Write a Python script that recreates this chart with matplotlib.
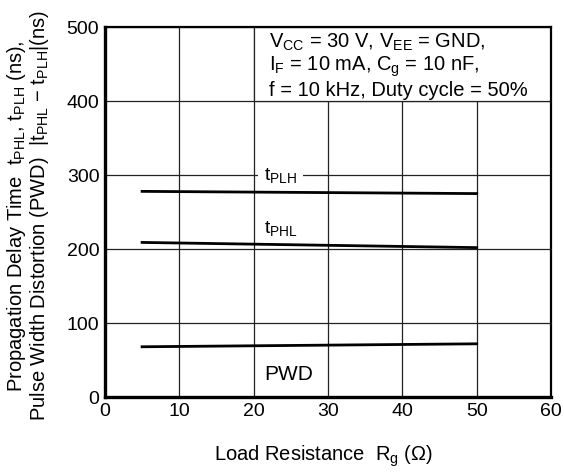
import matplotlib.pyplot as plt
from matplotlib.patches import Rectangle

plt.rcParams['font.family'] = ['Liberation Sans', 'DejaVu Sans']
plt.rcParams['mathtext.fontset'] = 'custom'
plt.rcParams['mathtext.rm'] = 'Liberation Sans'
plt.rcParams['mathtext.it'] = 'Liberation Sans:italic'
plt.rcParams['mathtext.default'] = 'regular'

# 数据
rg = [5, 50]
t_plh = [278, 275]
t_phl = [209, 202]
pwd = [68, 72]

x_ticks = [0, 10, 20, 30, 40, 50, 60]
y_ticks = [0, 100, 200, 300, 400, 500]

fig = plt.figure(figsize=(5.64, 4.75), dpi=100)
ax = fig.add_axes([0.186, 0.164, 0.791, 0.779])

ax.set_xlim(0, 60)
ax.set_ylim(0, 500)
ax.set_xticks(x_ticks)
ax.set_yticks(y_ticks)
ax.tick_params(length=0, labelsize=14, pad=4)
ax.grid(True, color='#222222', linewidth=0.9)
ax.set_axisbelow(True)

for side in ['left', 'bottom']:
    ax.spines[side].set_linewidth(2.4)
for side in ['top', 'right']:
    ax.spines[side].set_linewidth(1.6)

# 曲线
for y in [t_plh, t_phl, pwd]:
    ax.plot(rg, y, color='black', linewidth=2.0, zorder=3)

# 条件说明框（遮住网格）
ax.add_patch(Rectangle((20, 400), 40, 100, facecolor='white', edgecolor='#222222',
                       linewidth=0.9, zorder=2))
ax.text(22.1, 494, "$V_{CC}$ = 30 V, $V_{EE}$ = GND,\n$I_{F}$ = 10 mA, $C_{g}$ = 10 nF,\nf = 10 kHz, Duty cycle = 50%",
        fontsize=14.5, va='top', ha='left', linespacing=1.12, zorder=4)

# 曲线标签
ax.text(21.4, 300, "$t_{PLH}$", fontsize=14, va='center', ha='left', zorder=4,
        bbox=dict(facecolor='white', edgecolor='none', pad=4))
ax.text(21.4, 228, "$t_{PHL}$", fontsize=14, va='center', ha='left', zorder=4)
ax.text(21.4, 30, "PWD", fontsize=15, va='center', ha='left', zorder=4)

ax.set_xlabel("Load Resistance  $R_{g}$ (Ω)", fontsize=14.5)
ax.xaxis.set_label_coords(0.49, -0.125)
ax.set_ylabel("Propagation Delay Time  $t_{PHL}$, $t_{PLH}$ (ns),\n"
              "Pulse Width Distortion (PWD)  |$t_{PHL}$ − $t_{PLH}$|(ns)",
              fontsize=14.5, linespacing=1.05)
ax.yaxis.set_label_coords(-0.12, 0.49)

plt.savefig("out.png", dpi=100)
